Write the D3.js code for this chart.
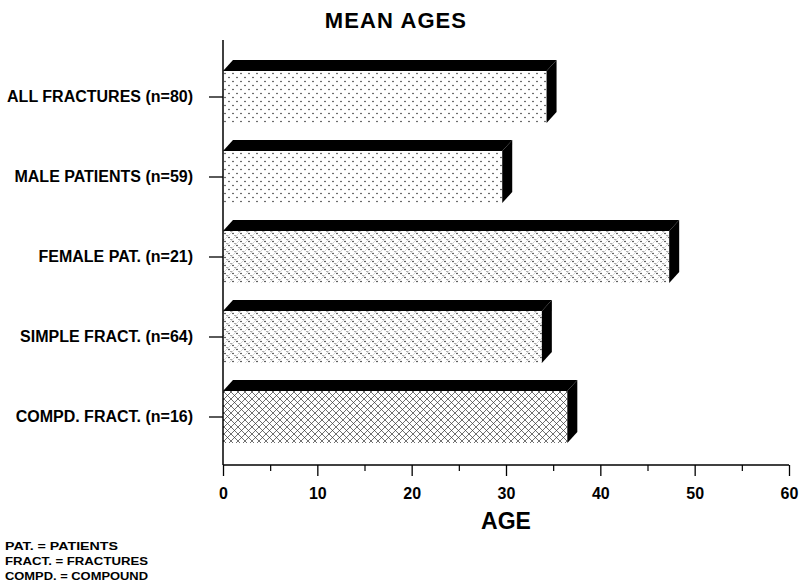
<!DOCTYPE html>
<html>
<head>
<meta charset="utf-8">
<script src="https://cdn.jsdelivr.net/npm/d3@7"></script>
<style>
  body { margin: 0; background: #fff; }
  svg { display: block; }
  text { font-family: "Liberation Sans", Arial, Helvetica, sans-serif; font-weight: bold; fill: #000; }
</style>
</head>
<body>
<svg id="chart" width="803" height="587"></svg>
<script>
// Mean age per patient group
const categories = [
  "ALL FRACTURES (n=80)",
  "MALE PATIENTS (n=59)",
  "FEMALE PAT. (n=21)",
  "SIMPLE FRACT. (n=64)",
  "COMPD. FRACT. (n=16)"
];
const meanAges = [34.3, 29.6, 47.3, 33.8, 36.5];
const xTicks = [0, 10, 20, 30, 40, 50, 60];
const xMinorTicks = [5, 15, 25, 35, 45, 55];
const footnotes = ["PAT. = PATIENTS", "FRACT. = FRACTURES", "COMPD. = COMPOUND"];

// fill pattern used for each bar's front face
const faceFill = ["dots", "dots", "dotsHatch", "dotsHatch", "cross"];

const svg = d3.select("#chart");
const axisX = 223, axisY = 465, axisTop = 40;
const depthX = 10, depthY = 11;

const x = d3.scaleLinear().domain([0, 60]).range([axisX, 789]);
const y = d3.scaleBand().domain(categories).range([57, 457])
  .paddingInner(0.35).paddingOuter(0.175);

// ---- patterns ----
const defs = svg.append("defs");
const pDots = defs.append("pattern").attr("id", "dots")
  .attr("patternUnits", "userSpaceOnUse").attr("width", 8).attr("height", 8);
pDots.append("rect").attr("width", 8).attr("height", 8).attr("fill", "#fff");
[[1, 1.5], [5, 5.5]].forEach(([cx, cy]) =>
  pDots.append("circle").attr("cx", cx).attr("cy", cy).attr("r", 0.75).attr("fill", "#222"));

const pDH = defs.append("pattern").attr("id", "dotsHatch")
  .attr("patternUnits", "userSpaceOnUse").attr("width", 8).attr("height", 8);
pDH.append("rect").attr("width", 8).attr("height", 8).attr("fill", "#fff");
pDH.append("path").attr("d", "M0,8 L8,0 M-2,2 L2,-2 M6,10 L10,6")
  .attr("stroke", "#bbb").attr("stroke-width", 0.6);
[[1, 1.5], [5, 5.5], [3, 3.5], [7, 7.5]].forEach(([cx, cy], i) =>
  pDH.append("circle").attr("cx", cx).attr("cy", cy).attr("r", i < 2 ? 0.8 : 0.5).attr("fill", "#222"));

const pCross = defs.append("pattern").attr("id", "cross")
  .attr("patternUnits", "userSpaceOnUse").attr("width", 7).attr("height", 7);
pCross.append("rect").attr("width", 7).attr("height", 7).attr("fill", "#fff");
pCross.append("path")
  .attr("d", "M0,0 L7,7 M-1,6 L1,8 M6,-1 L8,1 M0,7 L7,0 M-1,1 L1,-1 M6,8 L8,6")
  .attr("stroke", "#333").attr("stroke-width", 0.7);

// ---- title ----
svg.append("text").attr("x", 396).attr("y", 20).attr("dy", "0.36em")
  .attr("text-anchor", "middle").style("font-size", "22px")
  .style("letter-spacing", "1.1px").text("MEAN AGES");

// ---- bars (front face + top + side) ----
const bars = svg.append("g").selectAll("g").data(categories).join("g");
bars.each(function (c, i) {
  const g = d3.select(this);
  const v = meanAges[i];
  const x0 = x(0), x1 = x(v), y0 = y(c), y1 = y(c) + y.bandwidth();
  g.append("rect").attr("x", x0).attr("y", y0)
    .attr("width", x1 - x0).attr("height", y1 - y0)
    .attr("fill", `url(#${faceFill[i]})`);
  g.append("path")
    .attr("d", `M${x0},${y0} L${x0 + depthX},${y0 - depthY} L${x1 + depthX},${y0 - depthY} L${x1},${y0} Z`)
    .attr("fill", "#000");
  g.append("path")
    .attr("d", `M${x1},${y0} L${x1 + depthX},${y0 - depthY} L${x1 + depthX},${y1 - depthY} L${x1},${y1} Z`)
    .attr("fill", "#000");
});

// ---- y axis ----
const yAxis = svg.append("g").attr("transform", `translate(${axisX},0)`)
  .call(d3.axisLeft(y).tickSize(14).tickPadding(16));
yAxis.select(".domain").remove();
yAxis.selectAll(".tick line").attr("stroke", "#000").attr("stroke-width", 1.3);
yAxis.selectAll(".tick text").style("font-size", "16px")
  .style("font-family", "'Liberation Sans', Arial, sans-serif").style("font-weight", "bold");
svg.append("line").attr("x1", axisX).attr("x2", axisX)
  .attr("y1", axisTop).attr("y2", axisY)
  .attr("stroke", "#000").attr("stroke-width", 1.5);

// ---- x axis ----
const xAxis = svg.append("g").attr("transform", `translate(0,${axisY})`)
  .call(d3.axisBottom(x).tickValues(xTicks).tickSize(11).tickPadding(12).tickFormat(d3.format("d")));
xAxis.select(".domain").attr("stroke-width", 1.5).attr("d", `M${x(0)},0 H${x(60)}`);
xAxis.selectAll(".tick line").attr("stroke-width", 1.3);
xAxis.selectAll(".tick text").style("font-size", "16px")
  .style("font-family", "'Liberation Sans', Arial, sans-serif").style("font-weight", "bold");
svg.append("g").attr("transform", `translate(0,${axisY})`)
  .call(d3.axisBottom(x).tickValues(xMinorTicks).tickSize(6).tickFormat(""))
  .call(g => g.select(".domain").remove())
  .selectAll(".tick line").attr("stroke-width", 1.2);

svg.append("text").attr("x", 506).attr("y", 521).attr("dy", "0.36em")
  .attr("text-anchor", "middle").style("font-size", "23px").text("AGE");

// ---- abbreviations ----
svg.append("g").selectAll("text").data(footnotes).join("text")
  .attr("x", 5).attr("y", (d, i) => 546 + i * 14.8).attr("dy", "0.36em")
  .style("font-size", "11.5px")
  .attr("textLength", (d, i) => [113, 143, 143][i]).attr("lengthAdjust", "spacingAndGlyphs")
  .text(d => d);
</script>
</body>
</html>
